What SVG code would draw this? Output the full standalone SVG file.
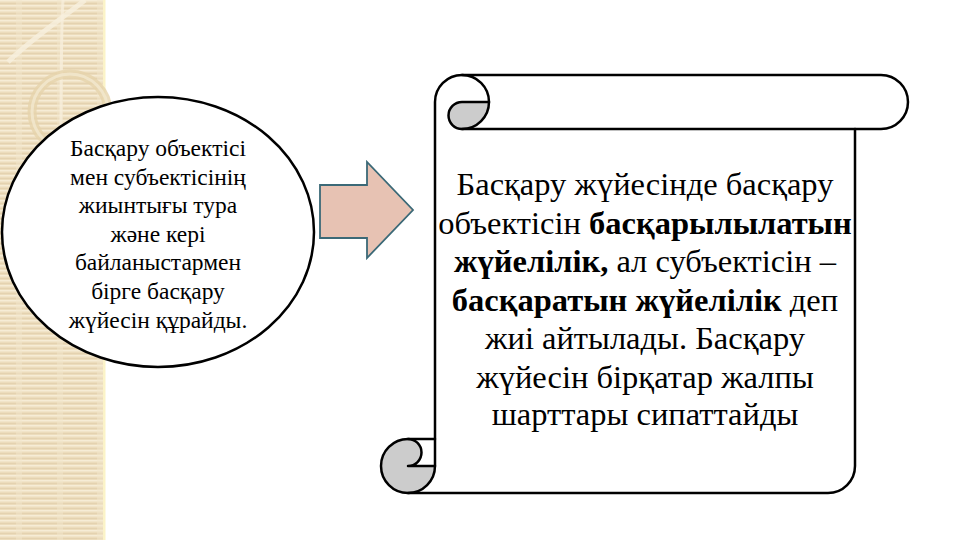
<svg xmlns="http://www.w3.org/2000/svg" width="960" height="540" viewBox="0 0 960 540">
<defs>
<pattern id="stripes" x="0" y="0" width="40" height="5" patternUnits="userSpaceOnUse">
<rect width="40" height="5" fill="#ecdcbc"/>
<rect y="0" width="40" height="1.5" fill="#f6ecd6"/>
<rect y="3" width="40" height="0.8" fill="#e3d0ad"/>
</pattern>
<style>
text{font-family:"Liberation Serif","Times New Roman",serif}
.t{fill:#000;text-anchor:middle}
.e{font-size:23.5px}
.s{font-size:32.5px}
.b{font-weight:bold}
.ol{fill:none;stroke:#000;stroke-width:2.5;stroke-linejoin:round;stroke-linecap:round}
</style>
</defs>
<rect width="960" height="540" fill="#ffffff"/>
<g id="sidebar">
<rect x="0" y="0" width="105" height="540" fill="url(#stripes)"/>
<rect x="16" y="0" width="6" height="540" fill="#f2e6cc" opacity="0.5"/>
<rect x="57" y="0" width="6" height="540" fill="#f2e6cc" opacity="0.5"/>
<rect x="97" y="0" width="6" height="540" fill="#f2e6cc" opacity="0.5"/>
<rect x="103" y="0" width="2.5" height="540" fill="#fbf3c8"/>
<path d="M 8 62 C 30 40, 60 20, 85 0" fill="none" stroke="#f8f0de" stroke-width="5" opacity="0.8"/>
<path d="M 63 0 C 60 60, 62 120, 60 170" fill="none" stroke="#f8f0de" stroke-width="3" opacity="0.7"/>
<circle cx="70" cy="112" r="38" fill="none" stroke="#e6d3ab" stroke-width="9" opacity="0.8"/>
<circle cx="70" cy="112" r="38" fill="none" stroke="#f3e8d0" stroke-width="3" opacity="0.8"/>
</g>
<g id="node-circle">
<ellipse cx="158" cy="232" rx="156" ry="135" fill="#ffffff" stroke="#000" stroke-width="2.5"/>
<text class="t e" x="158" y="156">Басқару объектісі</text>
<text class="t e" x="158" y="184.6">мен субъектісінің</text>
<text class="t e" x="158" y="213.2">жиынтығы тура</text>
<text class="t e" x="158" y="241.8">және кері</text>
<text class="t e" x="158" y="270.4">байланыстармен</text>
<text class="t e" x="158" y="299">бірге басқару</text>
<text class="t e" x="158" y="327.6">жүйесін құрайды.</text>
</g>
<g id="connectors">
<path d="M 320 185 H 367 V 162 L 413 210 L 367 258 V 238 H 320 Z" fill="#e7c2b3" stroke="#3b6977" stroke-width="1.8" stroke-linejoin="miter"/>
</g>
<g id="node-scroll">
<path d="M 435 102 A 27 27 0 0 1 462 75 H 881 A 27 27 0 0 1 881 129 H 855 V 466 A 27 27 0 0 1 828 493 H 408 A 27 27 0 0 1 408 439 H 435 Z" fill="#ffffff"/>
<path d="M 408 439 A 13.5 13.5 0 0 1 408 466 H 435 A 27 27 0 0 1 408 493 A 27 27 0 0 1 408 439 Z" class="ol" style="fill:#cccccc"/>
<path d="M 462 102 H 489 A 27 27 0 0 1 462 129 A 13.5 13.5 0 0 1 462 102 Z" class="ol" style="fill:#cccccc"/>
<path class="ol" d="M 435 466 V 102 A 27 27 0 0 1 489 102"/>
<path class="ol" d="M 462 75 H 881 A 27 27 0 0 1 881 129 H 462"/>
<path class="ol" d="M 408 439 H 435"/>
<path class="ol" d="M 855 129 V 466 A 27 27 0 0 1 828 493 H 408"/>
<text class="t s" x="645" y="195">Басқару жүйесінде басқару</text>
<text class="t s" x="645" y="233.5">объектісін <tspan class="b">басқарылылатын</tspan></text>
<text class="t s" x="645" y="272"><tspan class="b">жүйелілік,</tspan> ал субъектісін –</text>
<text class="t s" x="645" y="310.5"><tspan class="b">басқаратын жүйелілік</tspan> деп</text>
<text class="t s" x="645" y="349">жиі айтылады. Басқару</text>
<text class="t s" x="645" y="387.5">жүйесін бірқатар жалпы</text>
<text class="t s" x="645" y="425">шарттары сипаттайды</text>
</g>
</svg>
